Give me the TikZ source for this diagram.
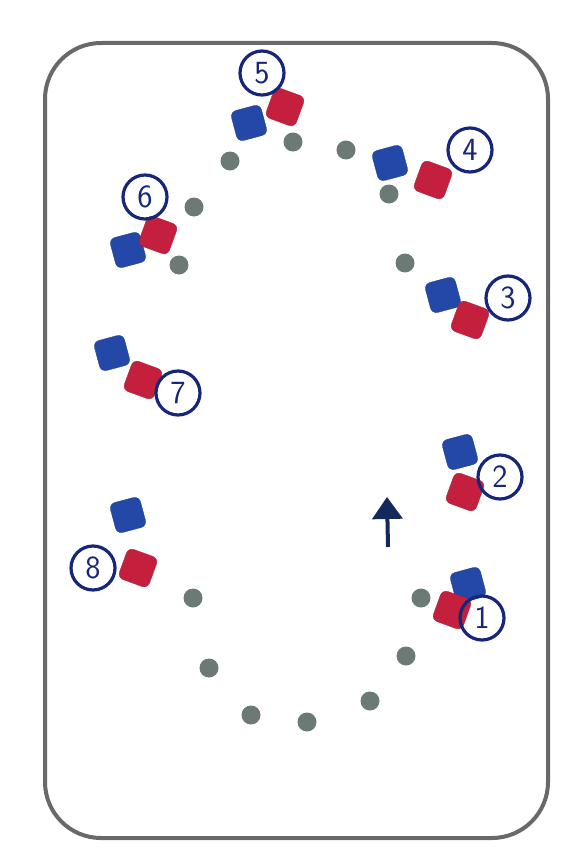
\documentclass[tikz,border=0pt]{standalone}
\usepackage{tikz}
\usetikzlibrary{arrows.meta}
\definecolor{cueblue}{RGB}{35,72,168}
\definecolor{cuered}{RGB}{196,32,62}
\definecolor{cuegrey}{RGB}{108,122,117}
\definecolor{inkblue}{RGB}{22,38,122}
\definecolor{framegrey}{RGB}{105,105,105}

\begin{document}
\begin{tikzpicture}[
  x=0.5mm, y=-0.5mm,
  every node/.style={font=\sffamily\fontsize{46}{46}\selectfont},
  dot/.style={circle, fill=cuegrey, minimum size=9.5mm, inner sep=0pt},
  blueblock/.style={fill=cueblue, draw=cueblue!85!black, rounded corners=3mm,
                    minimum size=15.5mm, inner sep=0pt, rotate=15},
  redblock/.style={fill=cuered, draw=cuered!85!black, rounded corners=3mm,
                   minimum size=16mm, inner sep=0pt, rotate=-20},
  numring/.style={draw=inkblue, circle, line width=1.6mm, minimum size=22mm,
                  inner sep=0pt, text=inkblue},
  frame/.style={draw=framegrey, line width=2mm, rounded corners=28mm},
  arr/.style={-{Triangle[width=15mm,length=11mm]}, draw=cueblue!55!black, line width=2mm}
]
\fill[white] (0,0) rectangle (579,861);

% pitch edge
\draw[frame] (45,43) rectangle (548,838);

% cones round the track
\foreach \k/\px/\py in {1/293/142, 2/230/161, 3/346/150, 4/389/194, 5/194/207,
  6/179/265, 7/405/263, 8/421/598, 9/193/598, 10/406/656, 11/209/668,
  12/370/701, 13/251/715, 14/307/722}
  \node[dot] (d\k) at (\px,\py) {};

% numbered stations
\foreach \i/\bx/\by/\rx/\ry/\nx/\ny in {
  1/468/585/452/610/482/618,
  2/460/452/465/492/500/477,
  3/443/295/470/320/508/298,
  4/390/163/433/180/470/150,
  5/249/123/285/107/262/73,
  6/128/250/158/235/145/197,
  7/112/353/143/380/178/393,
  8/128/515/138/568/93/568}
{
  \node[blueblock] (b\i) at (\bx,\by) {};
  \node[redblock]  (r\i) at (\rx,\ry) {};
  \node[numring]   (n\i) at (\nx,\ny) {\i};
}

% direction of play
\coordinate (atail) at (388,547);
\coordinate (ahead) at (387,497);
\draw[arr] (atail) -- (ahead);

\end{tikzpicture}
\end{document}
